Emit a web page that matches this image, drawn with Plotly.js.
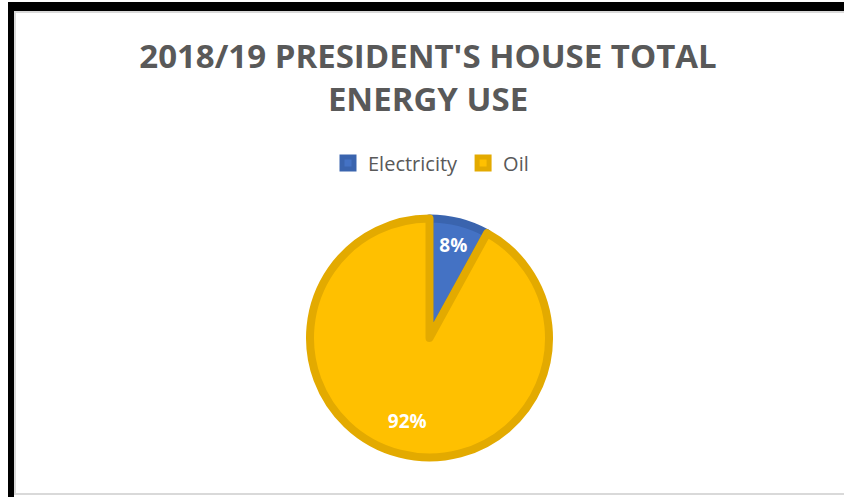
<!DOCTYPE html>
<html>
<head>
<meta charset="utf-8">
<script src="https://cdn.plot.ly/plotly-3.0.1.min.js"></script>
<style>
  html, body { margin: 0; padding: 0; background: #ffffff; }
  #wrap { position: relative; width: 844px; height: 497px; overflow: hidden; }
  #chart { width: 844px; height: 497px; }
  .deco { position: absolute; pointer-events: none; z-index: 50; }
</style>
</head>
<body>
<div id="wrap">
  <div id="chart"></div>
  <div class="deco" style="left:8px; top:2px; width:836px; height:9px; background:#000;"></div>
  <div class="deco" style="left:8px; top:2px; width:6px; height:495px; background:#000;"></div>
  <div class="deco" style="left:14px; top:11px; width:830px; height:2px; background:#d9d9d9;"></div>
  <div class="deco" style="left:14px; top:11px; width:2px; height:484px; background:#d9d9d9;"></div>
  <div class="deco" style="left:14px; top:493px; width:830px; height:2px; background:#d9d9d9;"></div>
</div>
<script>
const categories = ["Electricity", "Oil"];
const shares = [8, 92];
const fillColors = ["#4472C4", "#FFC000"];
const edgeColors = ["#3A64AE", "#E3AA00"];
const chartTitle = "2018/19 PRESIDENT'S HOUSE TOTAL<br>ENERGY USE";

const W = 844, H = 497;
const px = x => x / W;
const py = y => 1 - y / H;

const trace = {
  type: "pie",
  labels: categories,
  values: shares,
  sort: false,
  direction: "clockwise",
  rotation: 0,
  marker: { colors: fillColors, line: { color: edgeColors, width: 8 } },
  textinfo: "percent",
  texttemplate: ["%{percent:.0%}", "\u00a0<br>\u00a0<br>%{percent:.0%}\u00a0\u00a0\u00a0"],
  textposition: "inside",
  insidetextorientation: "horizontal",
  textfont: { family: "Open Sans", size: 19, color: "#ffffff", weight: "bold" },
  domain: { x: [px(310), px(549)], y: [py(459), py(217)] },
  hoverinfo: "label+percent",
  showlegend: true
};

const layout = {
  width: W, height: H,
  margin: { l: 0, r: 0, t: 0, b: 0 },
  paper_bgcolor: "#ffffff",
  plot_bgcolor: "#ffffff",
  title: {
    text: chartTitle,
    x: px(428), xanchor: "center",
    y: py(68), yanchor: "middle",
    font: { family: "Open Sans", size: 33, color: "#595959", weight: "bold" }
  },
  legend: {
    orientation: "h",
    x: px(431), xanchor: "center",
    y: py(163), yanchor: "middle",
    font: { family: "Open Sans", size: 20, color: "#595959" },
    itemwidth: 30,
    traceorder: "normal"
  }
};

Plotly.newPlot("chart", [trace], layout, { displayModeBar: false, staticPlot: true });
</script>
</body>
</html>
